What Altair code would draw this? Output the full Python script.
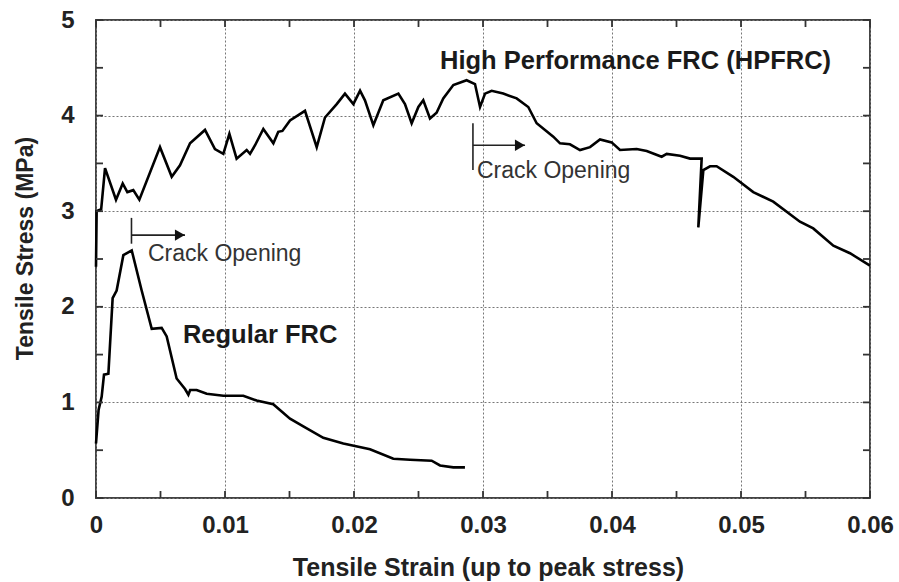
import altair as alt
import pandas as pd

# ---- data ----
hp_strain = [0.0, 0.00005, 0.0004, 0.0007, 0.00155, 0.00207, 0.00243, 0.00289, 0.00336,
             0.00496, 0.00587, 0.00651, 0.00729, 0.00845, 0.00922, 0.00987, 0.01034,
             0.0109, 0.01168, 0.01194, 0.01233, 0.01297, 0.01375, 0.01413, 0.01445,
             0.01504, 0.0162, 0.01711, 0.01775, 0.01866, 0.0193, 0.01995, 0.02047,
             0.02085, 0.0215, 0.02227, 0.02344, 0.02395, 0.02447, 0.02499, 0.02537,
             0.02589, 0.0264, 0.02692, 0.0277, 0.02873, 0.02938, 0.02977, 0.03016,
             0.03067, 0.03157, 0.03261, 0.03351, 0.03416, 0.03545, 0.03597, 0.03674,
             0.03752, 0.0383, 0.03907, 0.03997, 0.04062, 0.04191, 0.04269, 0.04385,
             0.04424, 0.04527, 0.04605, 0.04695, 0.04669, 0.04708, 0.0476, 0.04811,
             0.0494, 0.05095, 0.0525, 0.05457, 0.0556, 0.05716, 0.05845, 0.06]
hp_stress = [2.42, 3.0, 3.02, 3.45, 3.12, 3.29, 3.20, 3.22, 3.12,
             3.67, 3.36, 3.48, 3.71, 3.85, 3.65, 3.60, 3.81,
             3.55, 3.64, 3.60, 3.69, 3.86, 3.71, 3.83, 3.84,
             3.95, 4.05, 3.67, 3.98, 4.12, 4.23, 4.12, 4.26,
             4.16, 3.90, 4.16, 4.23, 4.12, 3.92, 4.09, 4.16,
             3.97, 4.03, 4.18, 4.32, 4.37, 4.33, 4.09, 4.23,
             4.26, 4.23, 4.18, 4.09, 3.92, 3.78, 3.71, 3.70,
             3.64, 3.67, 3.75, 3.72, 3.64, 3.65, 3.63, 3.57,
             3.60, 3.58, 3.55, 3.55, 2.83, 3.43, 3.47, 3.47,
             3.36, 3.20, 3.10, 2.89, 2.82, 2.64, 2.56, 2.43]

reg_strain = [0.0, 0.0002, 0.00044, 0.00062, 0.00096, 0.00129, 0.0016, 0.00212, 0.00277,
              0.00354, 0.00432, 0.00509, 0.00548, 0.00625, 0.0069, 0.00716, 0.0073,
              0.0078, 0.00858, 0.00987, 0.01142, 0.01245, 0.01374, 0.01504, 0.01607,
              0.01762, 0.01917, 0.02124, 0.02305, 0.02434, 0.02602, 0.02667, 0.0277, 0.0286]
reg_stress = [0.57, 0.92, 1.06, 1.29, 1.30, 2.09, 2.17, 2.54, 2.59,
              2.17, 1.77, 1.78, 1.69, 1.25, 1.14, 1.08, 1.13,
              1.13, 1.09, 1.07, 1.07, 1.02, 0.98, 0.83, 0.75,
              0.63, 0.57, 0.51, 0.41, 0.40, 0.39, 0.34, 0.32, 0.32]

x_major = [0.0, 0.01, 0.02, 0.03, 0.04, 0.05, 0.06]
x_minor = [0.005, 0.015, 0.025, 0.035, 0.045, 0.055]
y_major = [0, 1, 2, 3, 4, 5]
y_minor = [0.5, 1.5, 2.5, 3.5, 4.5]

# annotation contents
curve_labels = ["High Performance FRC (HPFRC)", "Regular FRC"]
curve_label_x = [0.02667, 0.00674]
curve_label_y = [4.57, 1.70]

crack_text = ["Crack Opening", "Crack Opening"]
crack_text_x = [0.00403, 0.02953]
crack_text_y = [2.55, 3.42]
crack_bar_x = [0.00275, 0.02922]
crack_bar_y1 = [2.66, 3.43]
crack_bar_y2 = [2.93, 3.92]
crack_arrow_y = [2.75, 3.69]
crack_arrow_end = [0.0069, 0.03326]
crack_head_x = [0.0065, 0.03286]

W, H = 774, 478
FONT = "Liberation Sans"

curves = pd.DataFrame({
    "strain": hp_strain + reg_strain,
    "stress": hp_stress + reg_stress,
    "series": ["HPFRC"] * len(hp_strain) + ["Regular"] * len(reg_strain),
    "order": list(range(len(hp_strain))) + list(range(len(reg_strain))),
})

xscale = alt.Scale(domain=[0, 0.06], nice=False, zero=False)
yscale = alt.Scale(domain=[0, 5], nice=False, zero=False)

xaxis = alt.Axis(values=x_major, format="~g", grid=True, gridColor="#777",
                 gridDash=[2, 2], gridWidth=1, ticks=False, domain=False,
                 labelFont=FONT, labelFontWeight="bold", labelFontSize=24,
                 labelColor="#222", labelPadding=15, labelFlush=False,
                 title="Tensile Strain (up to peak stress)", titleFont=FONT,
                 titleFontWeight="bold", titleFontSize=25, titleColor="#222",
                 titleX=392, titleY=77, titleBaseline="alphabetic")
yaxis = alt.Axis(values=y_major, format="d", grid=True, gridColor="#777",
                 gridDash=[2, 2], gridWidth=1, ticks=False, domain=False,
                 labelFont=FONT, labelFontWeight="bold", labelFontSize=24,
                 labelColor="#222", labelPadding=22, labelFlush=False,
                 title="Tensile Stress (MPa)", titleFont=FONT,
                 titleFontWeight="bold", titleFontSize=23, titleColor="#222",
                 titleX=-71, titleY=228, titleAngle=270,
                 titleBaseline="middle", titleAlign="center")

lines = alt.Chart(curves).mark_line(color="black", strokeWidth=2.6).encode(
    x=alt.X("strain:Q", scale=xscale, axis=xaxis),
    y=alt.Y("stress:Q", scale=yscale, axis=yaxis),
    detail="series:N",
    order="order:Q",
)

# inward ticks on all four sides
xt = pd.DataFrame({"v": x_major + x_minor,
                   "len": [7] * len(x_major) + [4] * len(x_minor)})
yt = pd.DataFrame({"v": y_major + y_minor,
                   "len": [7] * len(y_major) + [4] * len(y_minor)})

tick_style = dict(color="#333", strokeWidth=1.8)
xb = alt.Chart(xt).mark_rule(**tick_style).encode(
    x=alt.X("v:Q", scale=xscale), y=alt.value(H), y2=alt.value(H - 7))
xtp = alt.Chart(xt).mark_rule(**tick_style).encode(
    x=alt.X("v:Q", scale=xscale), y=alt.value(0), y2=alt.value(7))
yl = alt.Chart(yt).mark_rule(**tick_style).encode(
    y=alt.Y("v:Q", scale=yscale), x=alt.value(0), x2=alt.value(7))
yr = alt.Chart(yt).mark_rule(**tick_style).encode(
    y=alt.Y("v:Q", scale=yscale), x=alt.value(W), x2=alt.value(W - 7))

ann = pd.DataFrame({
    "tx": crack_text_x, "ty": crack_text_y, "text": crack_text,
    "bx": crack_bar_x, "by1": crack_bar_y1, "by2": crack_bar_y2,
    "ay": crack_arrow_y, "ae": crack_arrow_end, "hx": crack_head_x,
})
bars = alt.Chart(ann).mark_rule(color="#222", strokeWidth=1.6).encode(
    x=alt.X("bx:Q", scale=xscale), y=alt.Y("by1:Q", scale=yscale), y2="by2:Q")
shafts = alt.Chart(ann).mark_rule(color="#222", strokeWidth=1.6).encode(
    x=alt.X("bx:Q", scale=xscale), x2="ae:Q", y=alt.Y("ay:Q", scale=yscale))
heads = alt.Chart(ann).mark_point(shape="triangle-right", filled=True,
                                  color="#111", size=130, opacity=1).encode(
    x=alt.X("hx:Q", scale=xscale), y=alt.Y("ay:Q", scale=yscale))
crack_txt = alt.Chart(ann).mark_text(font=FONT, fontSize=23, color="#333",
                                     align="left", baseline="middle").encode(
    x=alt.X("tx:Q", scale=xscale), y=alt.Y("ty:Q", scale=yscale), text="text:N")

lab = pd.DataFrame({"x": curve_label_x, "y": curve_label_y, "text": curve_labels})
curve_txt = alt.Chart(lab).mark_text(font=FONT, fontSize=25.5, fontWeight="bold",
                                     color="#1a1a1a", align="left",
                                     baseline="middle").encode(
    x=alt.X("x:Q", scale=xscale), y=alt.Y("y:Q", scale=yscale), text="text:N")

chart = alt.layer(lines, xb, xtp, yl, yr, bars, shafts, heads, crack_txt, curve_txt).properties(
    width=W, height=H,
    autosize=alt.AutoSizeParams(type="none"),
    padding={"left": 96, "top": 20, "right": 29, "bottom": 84},
    background="white",
).configure_view(stroke="#444", strokeWidth=2)

chart.save("out.html", embed_options={"renderer": "svg", "actions": False})
